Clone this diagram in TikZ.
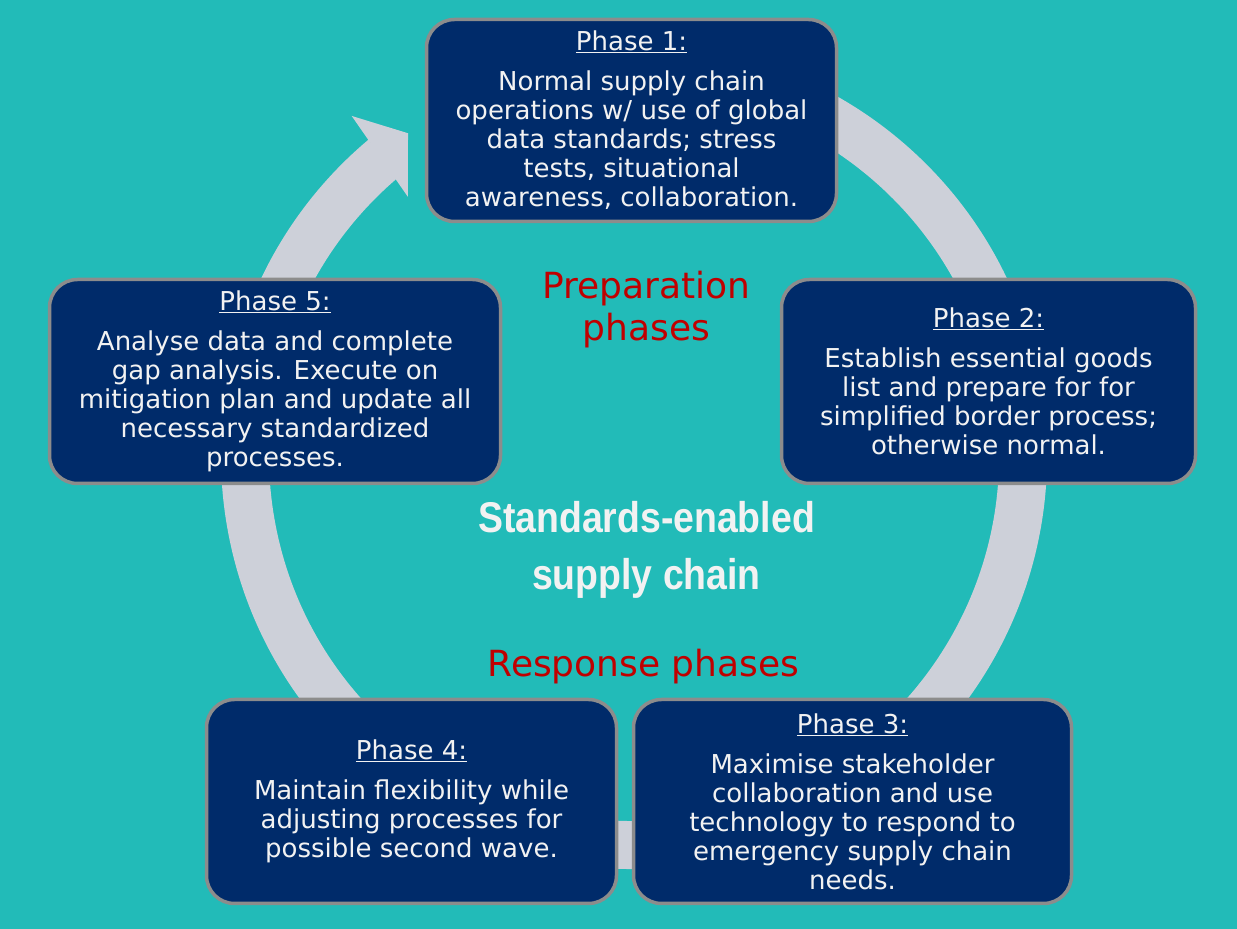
\documentclass[tikz,border=0pt]{standalone}
\usepackage{fontspec}
\setmainfont{DejaVu Sans}
\newfontfamily\condfont[FakeStretch=0.87]{Liberation Sans}
\definecolor{bgteal}{HTML}{22BBB8}
\definecolor{navy}{HTML}{002B6A}
\definecolor{bordergray}{HTML}{8C8C8C}
\definecolor{ringgray}{HTML}{CDD0D9}
\definecolor{redtxt}{HTML}{C00000}
\definecolor{txtwhite}{HTML}{F2F2F2}
\begin{document}
\begin{tikzpicture}[x=1pt,y=1pt,
  phasebox/.style={draw=bordergray, line width=3.5pt, fill=navy, rounded corners=28pt,
    text=txtwhite, align=center, inner sep=0pt, font=\fontsize{26}{29}\selectfont},
  redlabel/.style={text=redtxt, align=center, inner sep=0pt, font=\fontsize{36}{42}\selectfont},
  centrelabel/.style={text=txtwhite, align=center, inner sep=0pt,
    font=\condfont\bfseries\fontsize{43}{57}\selectfont},
  ringband/.style={draw=ringgray, line width=48pt}]
\useasboundingbox (0,0) rectangle (1237,929);
\fill[bgteal] (0,0) rectangle (1237,929);

% cycle ring with arrowhead
\begin{scope}[shift={(634,473)}]
  \draw[ringband] (100:389) arc[start angle=100, end angle=-230, radius=389];
  \fill[ringgray] (129.7:442) -- (125:394) -- (131.1:344) -- cycle;
\end{scope}

% phase boxes
\node[phasebox, minimum width=410pt, minimum height=202pt] (p1) at (631.5,808.5)
  {\underline{Phase 1:}\\[11pt]
   Normal supply chain\\
   operations w/ use of global\\
   data standards; stress\\
   tests, situational\\
   awareness, collaboration.};

\node[phasebox, minimum width=414pt, minimum height=204pt] (p2) at (988.5,547.5)
  {\underline{Phase 2:}\\[11pt]
   Establish essential goods\\
   list and prepare for for\\
   simplified border process;\\
   otherwise normal.};

\node[phasebox, minimum width=438pt, minimum height=204pt] (p3) at (852.5,127.5)
  {\underline{Phase 3:}\\[11pt]
   Maximise stakeholder\\
   collaboration and use\\
   technology to respond to\\
   emergency supply chain\\
   needs.};

\node[phasebox, minimum width=410pt, minimum height=204pt] (p4) at (411.5,127.5)
  {\underline{Phase 4:}\\[11pt]
   Maintain flexibility while\\
   adjusting processes for\\
   possible second wave.};

\node[phasebox, minimum width=451pt, minimum height=204pt] (p5) at (275,547.5)
  {\underline{Phase 5:}\\[11pt]
   Analyse data and complete\\
   gap analysis. Execute on\\
   mitigation plan and update all\\
   necessary standardized\\
   processes.};

% labels
\node[redlabel] (prep) at (646.5,619.5) {Preparation\\phases};
\node[centrelabel] (centre) at (646.5,379.5) {Standards-enabled\\supply chain};
\node[redlabel] (resp) at (643.5,262.5) {Response phases};
\end{tikzpicture}
\end{document}
